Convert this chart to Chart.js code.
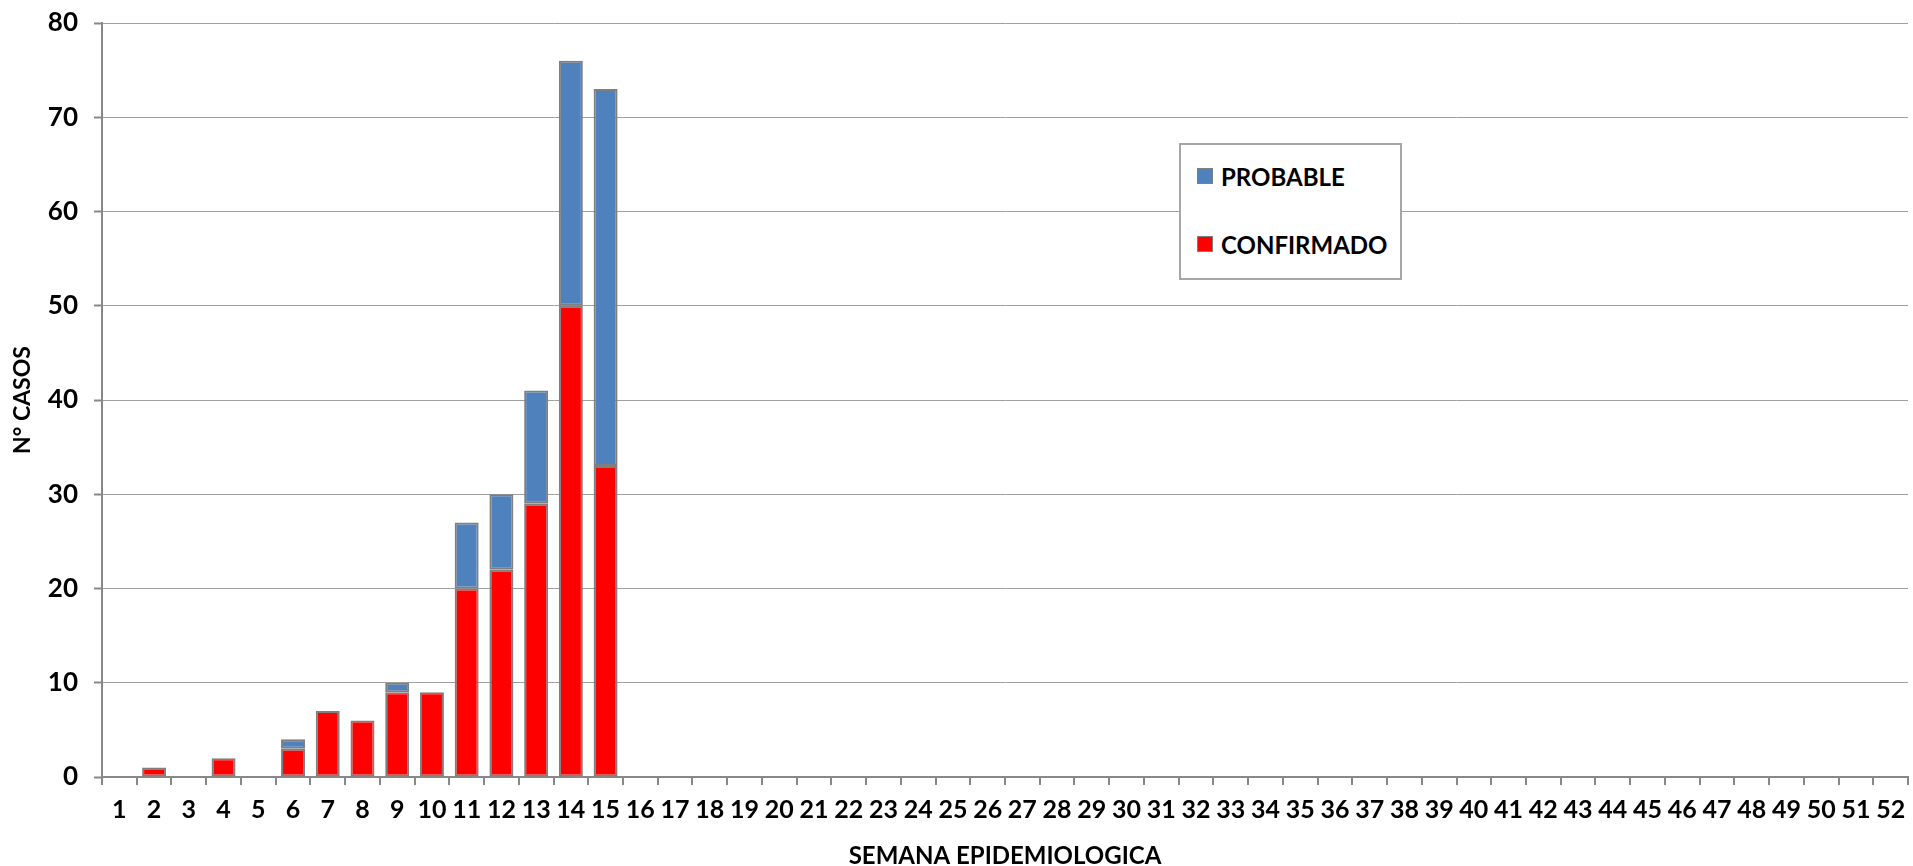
<!DOCTYPE html>
<html>
<head>
<meta charset="utf-8">
<script src="https://cdn.jsdelivr.net/npm/chart.js@4/dist/chart.umd.min.js"></script>
<style>
  html, body { margin: 0; padding: 0; background: #ffffff; }
  #wrap { position: relative; width: 1913px; height: 866px; }
  #legend {
    position: absolute; left: 1179px; top: 143px; width: 219px; height: 133px;
    border: 2px solid #a6a6a6; background: #ffffff; box-sizing: content-box;
    font-family: Lato, "Open Sans", sans-serif; font-weight: bold; font-size: 24px; color: #000;
  }
  .item { position: absolute; left: 16px; height: 28px; display: flex; align-items: center; }
  .sw { width: 14px; height: 14px; border: 1px solid #7f7f7f; margin-right: 8px; }
</style>
</head>
<body>
<div id="wrap">
  <canvas id="c" width="1913" height="866"></canvas>
  <div id="legend"></div>
</div>
<script>
const weeks = ["1","2","3","4","5","6","7","8","9","10","11","12","13","14","15","16","17","18","19","20","21","22","23","24","25","26","27","28","29","30","31","32","33","34","35","36","37","38","39","40","41","42","43","44","45","46","47","48","49","50","51","52"];
const confirmado = [0,1,0,2,0,3,7,6,9,9,20,22,29,50,33,0,0,0,0,0,0,0,0,0,0,0,0,0,0,0,0,0,0,0,0,0,0,0,0,0,0,0,0,0,0,0,0,0,0,0,0,0];
const probable   = [0,0,0,0,0,1,0,0,1,0,7,8,12,26,40,0,0,0,0,0,0,0,0,0,0,0,0,0,0,0,0,0,0,0,0,0,0,0,0,0,0,0,0,0,0,0,0,0,0,0,0,0];
const yTicks = [0,10,20,30,40,50,60,70,80];
const xTitle = "SEMANA EPIDEMIOLOGICA";
const yTitle = "N° CASOS";

const FONT = "Lato, 'Open Sans', sans-serif";
const AXIS = "#888888";

const chart = new Chart(document.getElementById('c'), {
  type: 'bar',
  data: {
    labels: weeks,
    datasets: [
      { label: 'CONFIRMADO', data: confirmado, backgroundColor: '#ff0000', borderColor: '#7f7f7f', borderWidth: 2, borderSkipped: false, barPercentage: 0.69, categoryPercentage: 1.0 },
      { label: 'PROBABLE', data: probable, backgroundColor: '#4f81bd', borderColor: '#7f7f7f', borderWidth: 2, borderSkipped: false, barPercentage: 0.69, categoryPercentage: 1.0 }
    ]
  },
  options: {
    responsive: false,
    animation: false,
    layout: { padding: { top: 23, right: 5, bottom: 0, left: 0 } },
    plugins: { legend: { display: false }, tooltip: { enabled: false } },
    scales: {
      x: {
        stacked: true,
        offset: true,
        border: { display: true, color: AXIS, width: 2 },
        grid: { display: true, drawOnChartArea: false, drawTicks: true, tickLength: 8, offset: true, color: AXIS, lineWidth: 2 },
        ticks: { color: '#000', font: { family: FONT, weight: 'bold', size: 25 }, padding: 10, maxRotation: 0, autoSkip: false },
        title: { display: true, text: xTitle, color: '#000', font: { family: FONT, weight: 'bold', size: 24, lineHeight: 0.8 }, padding: { top: 0, bottom: 0 } },
        afterFit: (s) => { s.height = 89; s.paddingLeft = 0; s.paddingRight = 0; }
      },
      y: {
        stacked: true,
        min: 0, max: 80,
        afterBuildTicks: (s) => { s.ticks = yTicks.map(v => ({ value: v })); },
        border: { display: true, color: AXIS, width: 2 },
        grid: { color: '#a0a0a0', lineWidth: 1, borderDash: [2, 2], tickLength: 8, tickColor: AXIS, tickWidth: 2, tickBorderDash: [] },
        ticks: { color: '#000', font: { family: FONT, weight: 'bold', size: 26 }, padding: 16 },
        title: { display: true, text: yTitle, color: '#000', font: { family: FONT, weight: 'bold', size: 23, lineHeight: 1 }, padding: { top: 11, bottom: 0 } },
        afterFit: (s) => { s.width = 102; s.paddingTop = 0; s.paddingBottom = 0; }
      }
    }
  }
});

// HTML legend built from the datasets (top item = last dataset)
const legend = document.getElementById('legend');
const items = chart.data.datasets.slice().reverse();
const tops = [17, 85];
items.forEach((ds, i) => {
  const d = document.createElement('div');
  d.className = 'item';
  d.style.top = tops[i] + 'px';
  const sw = document.createElement('span');
  sw.className = 'sw';
  sw.style.background = ds.backgroundColor;
  const t = document.createElement('span');
  t.textContent = ds.label;
  d.appendChild(sw); d.appendChild(t);
  legend.appendChild(d);
});
</script>
</body>
</html>
